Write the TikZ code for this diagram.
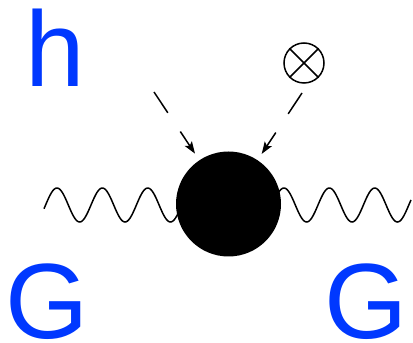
\documentclass[tikz,border=0pt]{standalone}
\usepackage{fontspec}
\newfontfamily\lblfont{Liberation Sans}
\usetikzlibrary{arrows.meta,calc}
\definecolor{lblue}{RGB}{0,56,255}
\begin{document}
\begin{tikzpicture}[x=1pt,y=1pt,
  lbl/.style={text=lblue,font=\fontsize{107}{107}\selectfont\lblfont,inner sep=0pt,anchor=base},
  blob/.style={circle,fill=black,minimum size=105pt,inner sep=0pt},
  otim/.style={circle,draw,line width=1.5pt,minimum size=40pt,inner sep=0pt},
  crossline/.style={line width=1.5pt},
  dashseg/.style={line width=1.5pt},
  tipseg/.style={line width=1.5pt,-{Stealth[length=12pt,width=8.5pt,inset=2.5pt]}},
  gluon/.style={line width=1.5pt}]
\useasboundingbox (0,0) rectangle (413,343);
% wave
\draw[gluon] plot[domain=44:411,samples=300,smooth] (\x,{138+17*sin(((\x-45.6)/45.4)*360)});
\node[blob] (b) at (228.5,139) {};
\node[otim] (o) at (304,280) {};
\draw[crossline] (o.45) -- (o.225) (o.135) -- (o.315);
\coordinate (s1) at (154,251);
\coordinate (s2) at (302,250);
\draw[dashseg] (s1) -- ($(s1)!25pt!(b.center)$);
\draw[tipseg] ($(s1)!47.5pt!(b.center)$) -- ($(s1)!74pt!(b.center)$);
\draw[dashseg] (s2) -- ($(s2)!25pt!(b.center)$);
\draw[tipseg] ($(s2)!47.5pt!(b.center)$) -- ($(s2)!73pt!(b.center)$);
\node[lbl] (h) at (55,256) {h};
\node[lbl] (g1) at (47,4) {G};
\node[lbl] (g2) at (366,4) {G};
\end{tikzpicture}
\end{document}
